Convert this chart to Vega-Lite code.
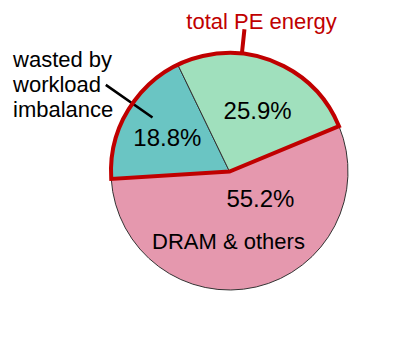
{
  "$schema": "https://vega.github.io/schema/vega-lite/v6.json",
  "autosize": {"type": "none"},
  "padding": {"left": 60, "top": 2, "right": 0, "bottom": 0},
  "width": 339,
  "height": 339,
  "background": "white",
  "config": {"view": {"stroke": null}, "font": "Liberation Sans"},
  "data": {"values": [
    {"category": "DRAM & others", "group": "DRAM & others", "slice": 1, "value": 55.2, "label": "55.2%"},
    {"category": "wasted by workload imbalance", "group": "total PE energy", "slice": 2, "value": 18.8, "label": "18.8%"},
    {"category": "PE useful", "group": "total PE energy", "slice": 3, "value": 25.9, "label": "25.9%"}
  ]},
  "layer": [
    {
      "mark": {"type": "arc", "outerRadius": 118.5, "stroke": "#333333", "strokeWidth": 1},
      "encoding": {
        "theta": {"field": "value", "type": "quantitative", "stack": true, "scale": {"range": [1.1781, 7.4613], "nice": false, "zero": true}},
        "order": {"field": "slice", "type": "quantitative"},
        "color": {"field": "category", "type": "nominal", "scale": {"domain": ["DRAM & others", "wasted by workload imbalance", "PE useful"], "range": ["#E598AE", "#6AC5C3", "#A0E0BD"]}, "legend": null}
      }
    },
    {
      "transform": [
        {"stack": "value", "groupby": [], "sort": [{"field": "slice", "order": "ascending"}], "as": ["v0", "v1"]},
        {"filter": "datum.slice === 2"}
      ],
      "mark": {"type": "arc", "innerRadius": 94, "outerRadius": 151, "fillOpacity": 0, "stroke": "#000000", "strokeWidth": 2.5, "thetaOffset": 0.6733, "theta2Offset": 0.6733},
      "encoding": {
        "theta": {"field": "v0", "type": "quantitative"},
        "theta2": {"field": "v0"}
      }
    },
    {
      "transform": [
        {"stack": "value", "groupby": [], "sort": [{"field": "slice", "order": "ascending"}], "as": ["v0", "v1"]},
        {"filter": "datum.slice === 2"}
      ],
      "mark": {"type": "arc", "innerRadius": 120, "outerRadius": 143, "fillOpacity": 0, "stroke": "#C00000", "strokeWidth": 4, "thetaOffset": 1.738, "theta2Offset": 1.738},
      "encoding": {
        "theta": {"field": "v0", "type": "quantitative"},
        "theta2": {"field": "v0"}
      }
    },
    {
      "transform": [{"aggregate": [{"op": "sum", "field": "value", "as": "value"}, {"op": "min", "field": "slice", "as": "slice"}], "groupby": ["group"]}],
      "layer": [
        {
          "mark": {"type": "arc", "outerRadius": 118.5, "fillOpacity": 0, "stroke": "#C00000", "strokeWidth": 4},
          "encoding": {
            "theta": {"field": "value", "type": "quantitative", "stack": true},
            "order": {"field": "slice", "type": "quantitative"},
            "strokeOpacity": {"condition": {"test": "datum.group === 'total PE energy'", "value": 1}, "value": 0}
          }
        },
        {
          "mark": {"type": "text", "radius": 145.8, "thetaOffset": 0.4489, "align": "center", "baseline": "alphabetic", "fontSize": 22, "color": "#C00000"},
          "encoding": {
            "theta": {"field": "value", "type": "quantitative", "stack": true},
            "order": {"field": "slice", "type": "quantitative"},
            "text": {"condition": {"test": "datum.group === 'total PE energy'", "field": "group"}, "value": ""}
          }
        }
      ]
    },
    {
      "mark": {"type": "text", "radius": 240.5, "thetaOffset": -0.078, "align": "left", "baseline": "alphabetic", "fontSize": 22, "lineHeight": 25, "color": "#000000"},
      "encoding": {
        "theta": {"field": "value", "type": "quantitative", "stack": true},
        "order": {"field": "slice", "type": "quantitative"},
        "text": {"condition": {"test": "datum.slice === 2", "value": ["wasted by", "workload", "imbalance"]}, "value": ""}
      }
    },
    {
      "mark": {"type": "text", "radius": 70, "thetaOffset": -0.0494, "align": "center", "baseline": "middle", "fontSize": 24, "color": "#000000"},
      "encoding": {
        "theta": {"field": "value", "type": "quantitative", "stack": true},
        "order": {"field": "slice", "type": "quantitative"},
        "text": {"condition": {"test": "datum.slice === 2", "field": "label"}, "value": ""}
      }
    },
    {
      "mark": {"type": "text", "radius": 66, "thetaOffset": 0.0761, "align": "center", "baseline": "middle", "fontSize": 24, "color": "#000000"},
      "encoding": {
        "theta": {"field": "value", "type": "quantitative", "stack": true},
        "order": {"field": "slice", "type": "quantitative"},
        "text": {"condition": {"test": "datum.slice === 3", "field": "label"}, "value": ""}
      }
    },
    {
      "mark": {"type": "text", "radius": 42, "thetaOffset": -0.5997, "align": "center", "baseline": "middle", "fontSize": 24, "color": "#000000"},
      "encoding": {
        "theta": {"field": "value", "type": "quantitative", "stack": true},
        "order": {"field": "slice", "type": "quantitative"},
        "text": {"condition": {"test": "datum.slice === 1", "field": "label"}, "value": ""}
      }
    },
    {
      "mark": {"type": "text", "radius": 71, "thetaOffset": 0.2416, "align": "center", "baseline": "middle", "fontSize": 22, "color": "#000000"},
      "encoding": {
        "theta": {"field": "value", "type": "quantitative", "stack": true},
        "order": {"field": "slice", "type": "quantitative"},
        "text": {"condition": {"test": "datum.slice === 1", "field": "category"}, "value": ""}
      }
    }
  ]
}
